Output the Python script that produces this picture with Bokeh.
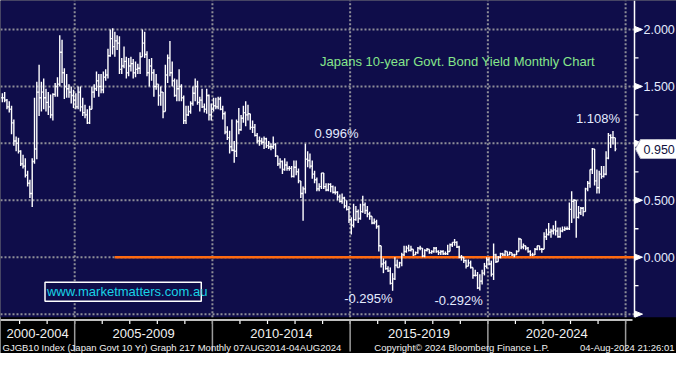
import pandas as pd
from bokeh.plotting import figure
from bokeh.models import Range1d
from bokeh.core.properties import value
from bokeh.embed import file_html
from bokeh.resources import INLINE

# ---------------- data (monthly OHLC, May 2002 .. Aug 2024) ----------------
first_month = "2002-05"
opens = [
    1.40, 1.40, 1.38, 1.32, 1.30, 1.18, 1.02, 1.00,
    0.93, 0.82, 0.80, 0.72, 0.65, 0.56, 0.84, 0.95, 1.45, 1.40, 1.45, 1.40,
    1.36, 1.32, 1.25, 1.43, 1.50, 1.52, 1.80, 1.62, 1.50, 1.48, 1.45, 1.42,
    1.38, 1.32, 1.45, 1.32, 1.27, 1.25, 1.18, 1.30, 1.45, 1.48, 1.55, 1.50,
    1.47, 1.58, 1.60, 1.77, 1.92, 1.85, 1.90, 1.88, 1.65, 1.68, 1.72, 1.62,
    1.68, 1.70, 1.62, 1.65, 1.66, 1.76, 1.88, 1.78, 1.62, 1.68, 1.62, 1.50,
    1.52, 1.42, 1.45, 1.28, 1.60, 1.75, 1.62, 1.55, 1.42, 1.48, 1.50, 1.40,
    1.20, 1.25, 1.28, 1.35, 1.44, 1.50, 1.36, 1.38, 1.32, 1.30, 1.42, 1.25,
    1.30, 1.33, 1.32, 1.39, 1.30, 1.26, 1.10, 1.05, 0.97, 0.94, 0.93, 1.19,
    1.12, 1.22, 1.27, 1.25, 1.26, 1.14, 1.14, 1.07, 1.02, 1.02, 1.01, 1.04,
    0.98, 0.97, 0.97, 0.99, 0.89, 0.82, 0.84, 0.77, 0.81, 0.78, 0.78, 0.71,
    0.79, 0.75, 0.67, 0.56, 0.60, 0.86, 0.85, 0.80, 0.73, 0.68, 0.60, 0.62,
    0.74, 0.62, 0.59, 0.64, 0.62, 0.57, 0.57, 0.53, 0.49, 0.52, 0.45, 0.42,
    0.33, 0.28, 0.33, 0.40, 0.34, 0.40, 0.46, 0.41, 0.38, 0.36, 0.30, 0.31,
    0.27, 0.10, -0.06, -0.05, -0.10, -0.12, -0.23, -0.19, -0.07, -0.09, -0.05, 0.02,
    0.05, 0.08, 0.06, 0.07, 0.02, 0.04, 0.08, 0.08, 0.01, 0.06, 0.07, 0.04,
    0.05, 0.08, 0.05, 0.04, 0.05, 0.03, 0.03, 0.05, 0.11, 0.13, 0.13, 0.09,
    0.00, 0.00, -0.03, -0.08, -0.05, -0.09, -0.16, -0.16, -0.27, -0.21, -0.14, -0.08,
    -0.02, -0.06, -0.15, 0.02, -0.04, 0.00, 0.03, 0.02, 0.05, 0.02, 0.04, 0.02,
    0.02, 0.05, 0.16, 0.09, 0.10, 0.08, 0.05, 0.02, 0.02, 0.07, 0.10, 0.07,
    0.07, 0.18, 0.20, 0.22, 0.23, 0.24, 0.23, 0.18, 0.23, 0.24, 0.25, 0.25,
    0.42, 0.49, 0.50, 0.35, 0.39, 0.43, 0.40, 0.60, 0.65, 0.77, 0.95, 0.67,
    0.61, 0.73, 0.71, 0.73, 0.87, 1.07, 1.05, 1.05,
]
highs = [
    1.44, 1.45, 1.39, 1.37, 1.33, 1.21, 1.06, 1.05,
    0.94, 0.90, 0.87, 0.76, 0.68, 0.87, 1.40, 1.54, 1.69, 1.54, 1.57, 1.48,
    1.45, 1.43, 1.44, 1.53, 1.58, 1.95, 1.91, 1.66, 1.61, 1.52, 1.50, 1.47,
    1.44, 1.50, 1.50, 1.40, 1.34, 1.30, 1.33, 1.50, 1.52, 1.63, 1.61, 1.61,
    1.63, 1.65, 1.83, 2.00, 2.01, 1.98, 1.95, 1.94, 1.75, 1.85, 1.76, 1.75,
    1.76, 1.74, 1.72, 1.70, 1.80, 2.00, 1.98, 1.81, 1.74, 1.75, 1.65, 1.61,
    1.52, 1.50, 1.45, 1.69, 1.78, 1.90, 1.72, 1.57, 1.56, 1.65, 1.52, 1.42,
    1.33, 1.33, 1.37, 1.50, 1.57, 1.55, 1.41, 1.48, 1.35, 1.48, 1.43, 1.35,
    1.40, 1.40, 1.41, 1.41, 1.33, 1.28, 1.15, 1.11, 1.21, 1.02, 1.21, 1.31,
    1.25, 1.33, 1.37, 1.34, 1.26, 1.20, 1.17, 1.09, 1.06, 1.05, 1.06, 1.05,
    1.02, 1.00, 1.06, 1.00, 0.89, 0.87, 0.85, 0.87, 0.84, 0.80, 0.80, 0.85,
    0.85, 0.78, 0.67, 0.62, 0.996, 0.93, 0.91, 0.85, 0.76, 0.70, 0.65, 0.74,
    0.74, 0.65, 0.65, 0.65, 0.63, 0.62, 0.58, 0.55, 0.56, 0.53, 0.50, 0.45,
    0.35, 0.47, 0.45, 0.42, 0.47, 0.54, 0.48, 0.45, 0.40, 0.36, 0.34, 0.33,
    0.28, 0.10, -0.01, -0.03, -0.08, -0.09, -0.14, 0.00, -0.02, -0.04, 0.04, 0.10,
    0.10, 0.11, 0.10, 0.07, 0.05, 0.09, 0.10, 0.08, 0.07, 0.08, 0.07, 0.06,
    0.09, 0.09, 0.06, 0.06, 0.06, 0.05, 0.11, 0.12, 0.13, 0.16, 0.14, 0.10,
    0.02, 0.00, -0.02, -0.02, -0.03, -0.09, -0.11, -0.13, -0.15, -0.11, -0.05, 0.00,
    0.00, -0.03, 0.12, 0.03, 0.01, 0.04, 0.04, 0.06, 0.05, 0.05, 0.04, 0.03,
    0.06, 0.17, 0.16, 0.12, 0.10, 0.09, 0.06, 0.04, 0.08, 0.10, 0.10, 0.08,
    0.22, 0.25, 0.30, 0.25, 0.28, 0.32, 0.26, 0.26, 0.27, 0.27, 0.27, 0.48,
    0.58, 0.51, 0.50, 0.45, 0.44, 0.44, 0.61, 0.67, 0.77, 0.96, 0.95, 0.77,
    0.76, 0.80, 0.80, 0.93, 1.09, 1.08, 1.108, 1.05,
]
lows = [
    1.36, 1.36, 1.30, 1.27, 1.08, 0.98, 0.93, 0.91,
    0.80, 0.78, 0.70, 0.62, 0.52, 0.44, 0.82, 0.86, 1.24, 1.28, 1.30, 1.28,
    1.25, 1.22, 1.20, 1.41, 1.41, 1.50, 1.53, 1.39, 1.40, 1.40, 1.35, 1.31,
    1.30, 1.30, 1.28, 1.24, 1.22, 1.17, 1.17, 1.30, 1.40, 1.46, 1.41, 1.44,
    1.44, 1.55, 1.57, 1.76, 1.78, 1.76, 1.82, 1.61, 1.61, 1.66, 1.57, 1.59,
    1.63, 1.57, 1.58, 1.61, 1.61, 1.76, 1.75, 1.59, 1.50, 1.55, 1.41, 1.47,
    1.33, 1.33, 1.22, 1.28, 1.53, 1.59, 1.50, 1.41, 1.37, 1.37, 1.37, 1.17,
    1.17, 1.24, 1.26, 1.33, 1.37, 1.34, 1.28, 1.31, 1.27, 1.26, 1.20, 1.20,
    1.28, 1.30, 1.30, 1.29, 1.21, 1.08, 1.03, 0.91, 0.93, 0.83, 0.88, 1.08,
    1.11, 1.18, 1.15, 1.20, 1.12, 1.09, 1.06, 1.00, 0.98, 0.99, 0.95, 0.96,
    0.95, 0.94, 0.95, 0.88, 0.80, 0.78, 0.73, 0.76, 0.76, 0.76, 0.70, 0.70,
    0.72, 0.65, 0.52, 0.32, 0.56, 0.79, 0.78, 0.69, 0.65, 0.58, 0.58, 0.60,
    0.60, 0.58, 0.58, 0.57, 0.56, 0.55, 0.50, 0.48, 0.47, 0.43, 0.41, 0.30,
    0.20, 0.26, 0.32, 0.30, 0.33, 0.39, 0.38, 0.35, 0.33, 0.29, 0.29, 0.25,
    0.05, -0.09, -0.14, -0.11, -0.13, -0.24, -0.295, -0.20, -0.09, -0.09, -0.08, 0.01,
    0.04, 0.05, 0.05, 0.01, 0.02, 0.03, 0.06, 0.00, 0.00, 0.05, 0.03, 0.03,
    0.04, 0.04, 0.02, 0.02, 0.02, 0.02, 0.02, 0.05, 0.09, 0.10, 0.08, -0.01,
    -0.03, -0.05, -0.10, -0.08, -0.10, -0.19, -0.17, -0.28, -0.292, -0.24, -0.16, -0.10,
    -0.07, -0.17, -0.20, -0.05, -0.04, -0.01, 0.01, 0.01, 0.01, 0.02, 0.01, 0.00,
    0.02, 0.05, 0.07, 0.07, 0.06, 0.04, 0.01, 0.01, 0.02, 0.06, 0.06, 0.04,
    0.07, 0.15, 0.19, 0.17, 0.20, 0.19, 0.17, 0.17, 0.22, 0.23, 0.24, 0.24,
    0.30, 0.34, 0.17, 0.34, 0.37, 0.36, 0.40, 0.58, 0.61, 0.73, 0.63, 0.56,
    0.56, 0.69, 0.70, 0.72, 0.86, 0.96, 0.99, 0.93,
]
closes = [
    1.40, 1.38, 1.32, 1.30, 1.18, 1.02, 1.00, 0.93,
    0.82, 0.80, 0.72, 0.65, 0.56, 0.84, 0.95, 1.45, 1.40, 1.45, 1.40, 1.36,
    1.32, 1.25, 1.43, 1.50, 1.52, 1.80, 1.62, 1.50, 1.48, 1.45, 1.42, 1.38,
    1.32, 1.45, 1.32, 1.27, 1.25, 1.18, 1.30, 1.45, 1.48, 1.55, 1.50, 1.47,
    1.58, 1.60, 1.77, 1.92, 1.85, 1.90, 1.88, 1.65, 1.68, 1.72, 1.62, 1.68,
    1.70, 1.62, 1.65, 1.66, 1.76, 1.88, 1.78, 1.62, 1.68, 1.62, 1.50, 1.52,
    1.42, 1.45, 1.28, 1.60, 1.75, 1.62, 1.55, 1.42, 1.48, 1.50, 1.40, 1.20,
    1.25, 1.28, 1.35, 1.44, 1.50, 1.36, 1.38, 1.32, 1.30, 1.42, 1.25, 1.30,
    1.33, 1.32, 1.39, 1.30, 1.26, 1.10, 1.05, 0.97, 0.94, 0.93, 1.19, 1.12,
    1.22, 1.27, 1.25, 1.26, 1.14, 1.14, 1.07, 1.02, 1.02, 1.01, 1.04, 0.98,
    0.97, 0.97, 0.99, 0.89, 0.82, 0.84, 0.77, 0.81, 0.78, 0.78, 0.71, 0.79,
    0.75, 0.67, 0.56, 0.60, 0.86, 0.85, 0.80, 0.73, 0.68, 0.60, 0.62, 0.74,
    0.62, 0.59, 0.64, 0.62, 0.57, 0.57, 0.53, 0.49, 0.52, 0.45, 0.42, 0.33,
    0.28, 0.33, 0.40, 0.34, 0.40, 0.46, 0.41, 0.38, 0.36, 0.30, 0.31, 0.27,
    0.10, -0.06, -0.05, -0.10, -0.12, -0.23, -0.19, -0.07, -0.09, -0.05, 0.02, 0.05,
    0.08, 0.06, 0.07, 0.02, 0.04, 0.08, 0.08, 0.01, 0.06, 0.07, 0.04, 0.05,
    0.08, 0.05, 0.04, 0.05, 0.03, 0.03, 0.05, 0.11, 0.13, 0.13, 0.09, 0.00,
    0.00, -0.03, -0.08, -0.05, -0.09, -0.16, -0.16, -0.27, -0.21, -0.14, -0.08, -0.02,
    -0.06, -0.15, 0.02, -0.04, 0.00, 0.03, 0.02, 0.05, 0.02, 0.04, 0.02, 0.02,
    0.05, 0.16, 0.09, 0.10, 0.08, 0.05, 0.02, 0.02, 0.07, 0.10, 0.07, 0.07,
    0.18, 0.20, 0.22, 0.23, 0.24, 0.23, 0.18, 0.23, 0.24, 0.25, 0.25, 0.42,
    0.49, 0.50, 0.35, 0.39, 0.43, 0.40, 0.60, 0.65, 0.77, 0.95, 0.67, 0.61,
    0.73, 0.71, 0.73, 0.87, 1.07, 1.05, 1.05, 0.95,
]

y_ticks = [2.0, 1.5, 1.0, 0.5, 0.0, -0.5]
y_tick_labels = ["2.000", "1.500", "1.000", "0.500", "0.000"]
y_minor_ticks = [1.75, 1.25, 0.75, 0.25, -0.25]
x_grid_years = [2005, 2010, 2015, 2020, 2025]
x_year_ticks = list(range(2003, 2026))
period_starts = [2000, 2005, 2010, 2015, 2020]
period_labels = ["2000-2004", "2005-2009", "2010-2014", "2015-2019", "2020-2024"]
last_value = 0.950
last_label = "0.950"
zero_line_start = 2006.45
ann_text = ["0.996%", "1.108%", "-0.295%", "-0.292%"]
ann_month = ["2013-05", "2024-07", "2016-07", "2019-09"]
ann_value = [0.996, 1.108, -0.295, -0.292]
title_text = "Japans 10-year Govt. Bond Yield Monthly Chart"
site_text = "www.marketmatters.com.au"
footer_left = "GJGB10 Index (Japan Govt 10 Yr) Graph 217  Monthly 07AUG2014-04AUG2024"
footer_mid = "Copyright\u00a9 2024 Bloomberg Finance L.P."
footer_right = "04-Aug-2024 21:26:01"

n = len(closes)
assert len(opens) == len(highs) == len(lows) == n

# ---------------- layout (page pixels) ----------------
W, H = 676, 353
AXIS_X = 634.0                      # right axis line (page px)
SX = AXIS_X / 641.0                 # horizontal squeeze of the plotting area
PX_PER_YEAR = 27.85 * SX
X2005 = 75.0 * SX
Y0 = 256.7                          # page y of value 0
PX_PER_UNIT = 113.85


def xp(px):
    return 2005 + (px - X2005) / PX_PER_YEAR


def yp(py):
    return (Y0 - py) / PX_PER_UNIT


def dxp(px):
    return px / PX_PER_YEAR


def dyp(py):
    return py / PX_PER_UNIT


def dec_year(ts):
    return ts.year + (ts.month - 1) / 12 + 1 / 24


months = pd.date_range(first_month, periods=n, freq="MS")
xs = [dec_year(m) for m in months]

NAVY = "#0f0d4a"
GRID = "#8e8e98"
WHITE = "#ffffff"
LABEL = "#e4ebff"
FONT = value("Liberation Sans")
NAVY_BOTTOM = 316.7

p = figure(width=W, height=H, x_range=Range1d(xp(0), xp(W)),
           y_range=Range1d(yp(H), yp(0)), output_backend="svg",
           toolbar_location=None, min_border=0, x_axis_type=None, y_axis_type=None)
p.outline_line_color = None
p.background_fill_color = "black"
p.border_fill_color = "black"

# navy plotting panel
p.quad(left=xp(-5), right=xp(W + 5), bottom=yp(NAVY_BOTTOM), top=yp(-5),
       fill_color=NAVY, line_color=None)

# dotted grid
p.segment(x0=[xp(0)] * len(y_ticks), x1=[xp(AXIS_X)] * len(y_ticks), y0=y_ticks, y1=y_ticks,
          line_color=GRID, line_width=2, line_dash="2 2")
p.segment(x0=x_grid_years, x1=x_grid_years, y0=[yp(NAVY_BOTTOM)] * len(x_grid_years),
          y1=[yp(0)] * len(x_grid_years), line_color=GRID, line_width=2, line_dash="2 2")

# zero line
p.segment(x0=[zero_line_start], x1=[xp(AXIS_X)], y0=[0], y1=[0], line_color="#ff6a10", line_width=2.5)

# OHLC bars
tick = 0.5 / 12
p.segment(x0=xs, x1=xs, y0=lows, y1=highs, line_color=WHITE, line_width=1.4)
p.segment(x0=[x - tick for x in xs], x1=xs, y0=opens, y1=opens, line_color=WHITE, line_width=1.4)
p.segment(x0=xs, x1=[x + tick for x in xs], y0=closes, y1=closes, line_color=WHITE, line_width=1.4)

# right axis
p.segment(x0=[xp(AXIS_X)], x1=[xp(AXIS_X)], y0=[yp(NAVY_BOTTOM)], y1=[yp(0)],
          line_color=WHITE, line_width=1.5)
p.patches(xs=[[xp(AXIS_X + 0.5), xp(AXIS_X + 8), xp(AXIS_X + 0.5)] for _ in y_ticks],
          ys=[[t + dyp(3), t, t - dyp(3)] for t in y_ticks], fill_color=WHITE, line_color=WHITE)
p.segment(x0=[xp(AXIS_X)] * len(y_minor_ticks), x1=[xp(AXIS_X + 4)] * len(y_minor_ticks),
          y0=y_minor_ticks, y1=y_minor_ticks, line_color=WHITE, line_width=1.3)
p.text(x=[xp(AXIS_X + 9)] * len(y_tick_labels), y=y_ticks[:len(y_tick_labels)], text=y_tick_labels,
       text_font=FONT, text_font_size="12.5px", text_color=LABEL,
       text_align="left", text_baseline="middle")

# current value box
p.patch(x=[xp(AXIS_X + 1), xp(AXIS_X + 6), xp(W + 5), xp(W + 5), xp(AXIS_X + 6)],
        y=[last_value, last_value + dyp(9.5), last_value + dyp(9.5),
           last_value - dyp(9.5), last_value - dyp(9.5)],
        fill_color=WHITE, line_color="#b8b8c8", line_width=1)
p.text(x=[xp(AXIS_X + 9)], y=[last_value], text=[last_label], text_font=FONT,
       text_font_size="12.5px", text_color="#10103c", text_align="left", text_baseline="middle")

# annotations of extremes
ann_dx = [9, 7, 0, 3]
ann_dy = [10, 12.5, -8, -10]
ann_align = ["left", "right", "right", "right"]
for t, m, v, ox, oy, al in zip(ann_text, ann_month, ann_value, ann_dx, ann_dy, ann_align):
    bx = dec_year(pd.Timestamp(m + "-01"))
    p.text(x=[bx + dxp(ox)], y=[v + dyp(oy)], text=[t], text_font=FONT, text_font_size="13px",
           text_color=LABEL, text_align=al, text_baseline="middle")

# title and website
p.text(x=[xp(323 * SX)], y=[yp(60.5)], text=[title_text], text_font=FONT, text_font_size="13px",
       text_color="#86e68a", text_align="left", text_baseline="middle")
p.quad(left=[xp(45 * SX)], right=[xp(203 * SX)], bottom=[yp(300.7)], top=[yp(281.8)],
       fill_color=NAVY, line_color=WHITE, line_width=1.5)
p.text(x=[xp(47 * SX)], y=[yp(291.3)], text=[site_text], text_font=FONT, text_font_size="13px",
       text_color="#19d3e6", text_align="left", text_baseline="middle")

# bottom time axis
p.segment(x0=[xp(0)], x1=[xp(AXIS_X - 2)], y0=[yp(319.5)], y1=[yp(319.5)],
          line_color=WHITE, line_width=1.5)
p.segment(x0=x_year_ticks, x1=x_year_ticks, y0=[yp(320)] * len(x_year_ticks),
          y1=[yp(323.5)] * len(x_year_ticks), line_color=WHITE, line_width=1.2)
p.segment(x0=x_grid_years, x1=x_grid_years, y0=[yp(320)] * len(x_grid_years),
          y1=[yp(351)] * len(x_grid_years), line_color="#9c9c9c", line_width=1.5)
left_edge = xp(0)
centers = [(max(s, left_edge) + s + 5) / 2 for s in period_starts]
p.text(x=centers, y=[yp(333)] * len(centers), text=period_labels, text_font=FONT,
       text_font_size="13px", text_color="#f2f2f2", text_align="center", text_baseline="middle")

# footer
p.text(x=[xp(2)], y=[yp(346.5)], text=[footer_left], text_font=FONT, text_font_size="9.5px",
       text_color="#f2f2f2", text_align="left", text_baseline="middle")
p.text(x=[xp(378 * SX)], y=[yp(346.5)], text=[footer_mid], text_font=FONT, text_font_size="9.5px",
       text_color="#f2f2f2", text_align="left", text_baseline="middle")
p.text(x=[xp(W - 2)], y=[yp(346.5)], text=[footer_right], text_font=FONT, text_font_size="9.5px",
       text_color="#f2f2f2", text_align="right", text_baseline="middle")

open("out.html", "w").write(file_html(p, INLINE))
